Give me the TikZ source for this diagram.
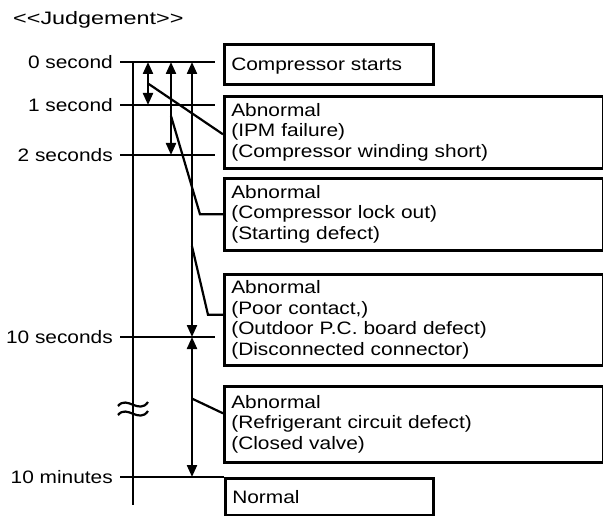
\documentclass[tikz,border=0pt]{standalone}
\usepackage{fontspec}
\setmainfont{Liberation Sans}[FakeStretch=1.16]
\usetikzlibrary{arrows.meta,calc}

\begin{document}
\begin{tikzpicture}[
  x=1pt, y=-1pt,
  font=\fontsize{18}{20.5}\selectfont,
  box/.style={draw, line width=2.6pt, anchor=north west, align=left, inner xsep=7pt, inner ysep=0pt},
  widebox/.style={box, text width=365pt},
  tick/.style={anchor=east, inner sep=0pt},
  axis/.style={line width=2.2pt},
  dblarrow/.style={{Triangle[length=12pt,width=10pt]}-{Triangle[length=12pt,width=10pt]}, line width=2.2pt},
  leader/.style={line width=2.2pt},
]
\useasboundingbox (0,0) rectangle (603,516);

\node[anchor=west, inner sep=0pt] (title) at (13,20) {\scalebox{1.12}[1]{<{}<Judgement>{}>}};

% time marks
\node[tick] (t0) at (113,62) {0 second};
\node[tick] (t1) at (113,105) {1 second};
\node[tick] (t2) at (113,155) {2 seconds};
\node[tick] (t10s) at (113,337) {10 seconds};
\node[tick] (t10m) at (113,477) {10 minutes};

% result boxes
\node[box, text width=195pt, minimum height=40pt, text depth=0pt] (box1) at (223,43) {Compressor starts};
\node[widebox, minimum height=72pt] (box2) at (223,95) {Abnormal\\(IPM failure)\\(Compressor winding short)};
\node[widebox, minimum height=72pt] (box3) at (223,177) {Abnormal\\(Compressor lock out)\\(Starting defect)};
\node[widebox, minimum height=91pt] (box4) at (223,273) {Abnormal\\(Poor contact,)\\(Outdoor P.C. board defect)\\(Disconnected connector)};
\node[widebox, minimum height=76pt] (box5) at (223,385) {Abnormal\\(Refrigerant circuit defect)\\(Closed valve)};
\node[box, text width=194pt, minimum height=37pt] (box6) at (224,477) {Normal};

% axis and tick lines
\coordinate (top) at (133,62);
\coordinate (bot) at (133,505);
\draw[axis] (top) -- (bot);
\foreach \t in {t0,t1,t2,t10s}
  \draw[axis] ([xshift=7pt]\t.east) -- ++(95,0);
\draw[axis] ([xshift=7pt]t10m.east) -- (box6.north west);

% break mark
\foreach \dy in {0,9}
  \draw[axis] (118,406+\dy) .. controls (127,395+\dy) and (139,415+\dy) .. (148,402+\dy);

% arrow columns
\coordinate (c1) at (148,0);
\coordinate (c2) at (171,0);
\coordinate (c3) at (192,0);
\draw[dblarrow] (t0.east -| c1) -- (t1.east -| c1);
\draw[dblarrow] (t0.east -| c2) -- (t2.east -| c2);
\draw[dblarrow] (t0.east -| c3) -- (t10s.east -| c3);
\draw[dblarrow] (t10s.east -| c3) -- (t10m.east -| c3);

% leaders
\draw[leader] ($(t0.east -| c1)!.5!(t1.east -| c1)$) -- ([yshift=-2pt]box2.west);
\draw[leader] ($(t0.east -| c2)!.58!(t2.east -| c2)$) -- ([xshift=-23pt]box3.west) -- (box3.west);
\draw[leader] ($(t0.east -| c3)!.67!(t10s.east -| c3)$) -- ([xshift=-15pt,yshift=5pt]box4.west) -- ([yshift=5pt]box4.west);
\draw[leader] ($(t10s.east -| c3)!.44!(t10m.east -| c3)$) -- ([yshift=11pt]box5.west);
\end{tikzpicture}
\end{document}
